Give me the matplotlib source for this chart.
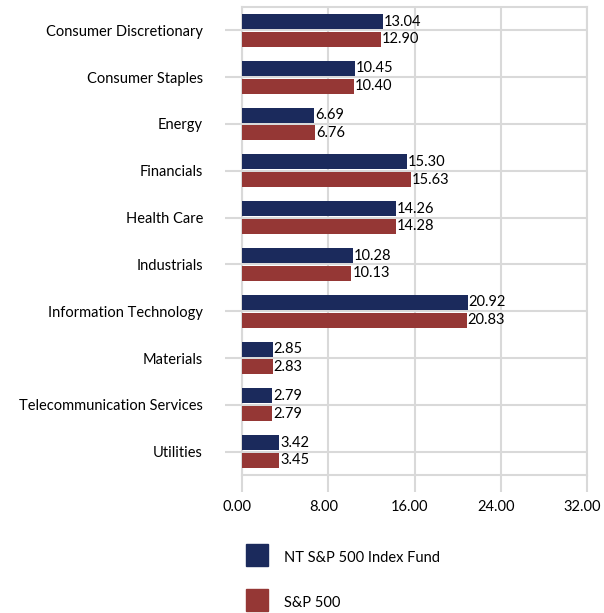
from matplotlib import pyplot as plt
from matplotlib.patches import Rectangle
from matplotlib.transforms import ScaledTranslation
import numpy as np

Sectors = ['Consumer Discretionary', 'Consumer Staples', 'Energy', 'Financials',
           'Health Care', 'Industrials', 'Information Technology', 'Materials',
           'Telecommunication Services', 'Utilities']
FundValues = [13.04, 10.45, 6.69, 15.30, 14.26, 10.28, 20.92, 2.85, 2.79, 3.42]
IndexValues = [12.90, 10.40, 6.76, 15.63, 14.28, 10.13, 20.83, 2.83, 2.79, 3.45]
SeriesNames = ['NT S&P 500 Index Fund', 'S&P 500']
XTicks = [0, 8, 16, 24, 32]

NavyColor = '#1b2a5c'
RedColor = '#953735'
GridColor = '#d9d9d9'

plt.rcParams['font.family'] = ['Lato', 'DejaVu Sans']
FontSize = 10.5

fig = plt.figure(figsize=(6.04, 6.13), dpi=100)
W, H = 604, 613
ax = fig.add_axes([242/W, 1-475/H, (587-242)/W, (475-7)/H])

Y = np.arange(len(Sectors))
BarH = 0.32
Off = 0.19
bars1 = ax.barh(Y - Off, FundValues, height=BarH, color=NavyColor, zorder=3)
bars2 = ax.barh(Y + Off, IndexValues, height=BarH, color=RedColor, zorder=3)

for bars, vals in [(bars1, FundValues), (bars2, IndexValues)]:
    for b, v in zip(bars, vals):
        ax.text(b.get_width() + 0.1, b.get_y() + b.get_height()/2, '%.2f' % v,
                va='center', ha='left', fontsize=FontSize, color='black', zorder=4)

ax.set_xlim(0, 32)
ax.set_ylim(len(Sectors) - 0.5, -0.5)
ax.set_xticks(XTicks)
ax.set_xticklabels(['%.2f' % t for t in XTicks], fontsize=FontSize)
ax.set_yticks(Y)
ax.set_yticklabels(Sectors, fontsize=FontSize)
ax.tick_params(axis='x', length=12, width=1.5, color=GridColor, pad=6)
ax.tick_params(axis='y', length=12, width=1.5, color=GridColor, pad=16)
ax.grid(True, color=GridColor, linewidth=1.5, zorder=0)
for s in ax.spines.values():
    s.set_color(GridColor)
    s.set_linewidth(1.5)

# tick labels sit a little left of their gridlines in the original
shift = ScaledTranslation(-5/100, 0, fig.dpi_scale_trans)
for lbl in ax.get_xticklabels():
    lbl.set_transform(lbl.get_transform() + shift)

# legend
for i, (name, col) in enumerate(zip(SeriesNames, [NavyColor, RedColor])):
    top = 544 + i*45
    fig.patches.append(Rectangle((246/W, 1-(top+22)/H), 22/W, 22/H,
                                 transform=fig.transFigure, color=col))
    fig.text(284/W, 1-(top+14)/H, name, va='center', ha='left', fontsize=FontSize)

fig.savefig('out.png', dpi=100)
